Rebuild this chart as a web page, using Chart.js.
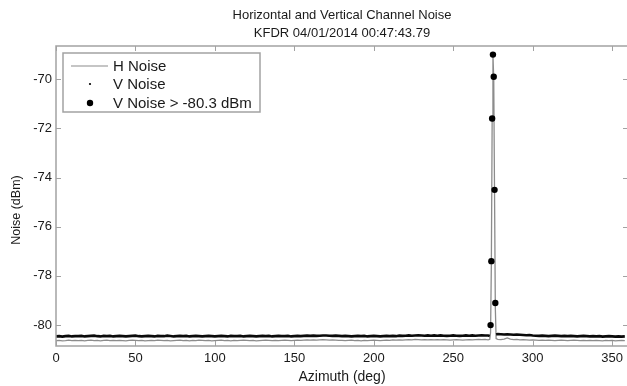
<!DOCTYPE html>
<html>
<head>
<meta charset="utf-8">
<script src="https://cdn.jsdelivr.net/npm/chart.js@4.4.0/dist/chart.umd.min.js"></script>
<style>
  html, body { margin: 0; padding: 0; background: #fff; overflow: hidden; }
  #wrap { width: 632px; height: 386px; }
</style>
</head>
<body>
<div id="wrap"><canvas id="noiseChart" width="632" height="386"></canvas></div>
<script>
// azimuth sampling of the baseline noise (deg)
const azStep = 2;

// H channel noise (dBm), one value per azStep, nulls where the spike samples take over
const hNoise = [
  -80.63, -80.62, -80.64, -80.63, -80.61, -80.63, -80.62, -80.63, -80.62, -80.64,
  -80.62, -80.61, -80.63, -80.62, -80.64, -80.62, -80.61, -80.63, -80.62, -80.63,
  -80.62, -80.63, -80.64, -80.62, -80.61, -80.62, -80.63, -80.62, -80.64, -80.63,
  -80.62, -80.63, -80.61, -80.62, -80.63, -80.62, -80.64, -80.63, -80.62, -80.61,
  -80.63, -80.62, -80.64, -80.62, -80.63, -80.61, -80.62, -80.63, -80.62, -80.64,
  -80.63, -80.62, -80.61, -80.63, -80.62, -80.64, -80.62, -80.63, -80.62, -80.61,
  -80.62, -80.63, -80.62, -80.64, -80.63, -80.62, -80.61, -80.62, -80.63, -80.62,
  -80.63, -80.62, -80.61, -80.62, -80.63, -80.62, -80.61, -80.62, -80.61, -80.60,
  -80.61, -80.60, -80.61, -80.60, -80.59, -80.60, -80.61, -80.60, -80.61, -80.62,
  -80.62, -80.63, -80.62, -80.61, -80.63, -80.62, -80.64, -80.62, -80.63, -80.62,
  -80.61, -80.62, -80.63, -80.62, -80.61, -80.62, -80.60, -80.61, -80.60, -80.61,
  -80.60, -80.59, -80.60, -80.58, -80.59, -80.60, -80.59, -80.60, -80.59, -80.60,
  -80.59, -80.60, -80.59, -80.60, -80.61, -80.60, -80.59, -80.60, -80.61, -80.60,
  -80.59, -80.60, -80.59, -80.58, -80.59, -80.58, -80.60, null,   null,   -80.58,
  -80.59, -80.57, -80.52, -80.57, -80.59, -80.58, -80.60, -80.59, -80.60, -80.61,
  -80.60, -80.61, -80.62, -80.61, -80.62, -80.61, -80.62, -80.63, -80.62, -80.61,
  -80.62, -80.63, -80.62, -80.61, -80.62, -80.63, -80.62, -80.63, -80.62, -80.63,
  -80.62, -80.63, -80.64, -80.62, -80.63, -80.62, -80.64, -80.63, -80.62, -80.63
];

// V channel noise (dBm), same sampling
const vNoise = [
  -80.46, -80.45, -80.47, -80.45, -80.44, -80.46, -80.45, -80.45, -80.44, -80.46,
  -80.45, -80.44, -80.43, -80.45, -80.46, -80.44, -80.45, -80.44, -80.46, -80.45,
  -80.44, -80.45, -80.46, -80.45, -80.44, -80.43, -80.45, -80.46, -80.45, -80.44,
  -80.45, -80.46, -80.44, -80.45, -80.45, -80.43, -80.44, -80.46, -80.45, -80.44,
  -80.45, -80.44, -80.46, -80.45, -80.44, -80.45, -80.46, -80.45, -80.44, -80.45,
  -80.46, -80.45, -80.44, -80.45, -80.46, -80.44, -80.45, -80.45, -80.44, -80.46,
  -80.45, -80.44, -80.45, -80.46, -80.45, -80.44, -80.45, -80.44, -80.46, -80.45,
  -80.44, -80.45, -80.45, -80.44, -80.46, -80.45, -80.44, -80.45, -80.44, -80.43,
  -80.44, -80.43, -80.44, -80.43, -80.42, -80.42, -80.43, -80.44, -80.43, -80.44,
  -80.45, -80.44, -80.45, -80.46, -80.45, -80.44, -80.45, -80.44, -80.46, -80.45,
  -80.44, -80.45, -80.46, -80.45, -80.44, -80.45, -80.44, -80.45, -80.43, -80.44,
  -80.43, -80.42, -80.43, -80.42, -80.41, -80.42, -80.43, -80.42, -80.43, -80.42,
  -80.43, -80.42, -80.43, -80.44, -80.43, -80.42, -80.43, -80.44, -80.43, -80.42,
  -80.43, -80.42, -80.43, -80.42, -80.41, -80.42, -80.42, null,   null,   -80.36,
  -80.37, -80.38, -80.37, -80.38, -80.39, -80.38, -80.39, -80.40, -80.41, -80.40,
  -80.42, -80.43, -80.44, -80.43, -80.44, -80.45, -80.44, -80.43, -80.44, -80.45,
  -80.44, -80.45, -80.44, -80.45, -80.46, -80.45, -80.44, -80.45, -80.46, -80.45,
  -80.46, -80.45, -80.47, -80.46, -80.45, -80.46, -80.47, -80.46, -80.47, -80.46
];

// finer samples across the interference spike
const spikeAz = [273, 273.5, 274, 274.5, 275, 275.5, 276, 276.5, 277];
const spikeH = [-80.58, -80.30, -77.50, -71.70, -69.00, -70.00, -74.60, -79.30, -80.55];
const spikeV = [-80.44, -80.00, -77.40, -71.60, -69.00, -69.90, -74.50, -79.10, -80.38];

const vThreshold = -80.3;
const xTicks = [0, 50, 100, 150, 200, 250, 300, 350];
const yTicks = [-80, -78, -76, -74, -72, -70];

const titleLines = ['Horizontal and Vertical Channel Noise', 'KFDR 04/01/2014 00:47:43.79'];
const legendLabels = ['H Noise', 'V Noise', 'V Noise > -80.3 dBm'];
const yLabel = 'Noise (dBm)';

function toPoints(base, spike) {
  const pts = base
    .map((v, i) => ({ x: i * azStep, y: v }))
    .filter(p => p.y !== null);
  spike.forEach((v, i) => pts.push({ x: spikeAz[i], y: v }));
  return pts.sort((a, b) => a.x - b.x);
}

const hPoints = toPoints(hNoise, spikeH);
const vPoints = toPoints(vNoise, spikeV);
const vLow = vPoints.map(p => ({ x: p.x, y: p.y > vThreshold ? null : p.y }));
const vHigh = vPoints.filter(p => p.y > vThreshold);

const FONT = "'Liberation Sans', Arial, sans-serif";
const TEXT = '#1a1a1a';
const GRAY = '#8c8c8c';
const FRAME = '#a2a2a2';

// box, inward ticks on all four sides, title, ylabel and legend, MATLAB style
const decorations = {
  id: 'decorations',
  afterDraw(chart) {
    const { ctx, chartArea: a, scales: { x, y } } = chart;
    ctx.save();

    ctx.strokeStyle = FRAME;
    ctx.lineWidth = 1.5;
    ctx.strokeRect(a.left, a.top, a.right - a.left, a.bottom - a.top);

    ctx.lineWidth = 1;
    ctx.beginPath();
    x.ticks.forEach(t => {
      const px = Math.round(x.getPixelForValue(t.value)) + 0.5;
      ctx.moveTo(px, a.bottom); ctx.lineTo(px, a.bottom - 5);
      ctx.moveTo(px, a.top); ctx.lineTo(px, a.top + 5);
    });
    y.ticks.forEach(t => {
      const py = Math.round(y.getPixelForValue(t.value)) + 0.5;
      ctx.moveTo(a.left, py); ctx.lineTo(a.left + 5, py);
      ctx.moveTo(a.right, py); ctx.lineTo(a.right - 5, py);
    });
    ctx.stroke();

    // title
    ctx.fillStyle = TEXT;
    ctx.font = '13px ' + FONT;
    ctx.textAlign = 'center';
    ctx.textBaseline = 'middle';
    const cx = (a.left + a.right) / 2;
    ctx.fillText(titleLines[0], cx, 15);
    ctx.fillText(titleLines[1], cx, 33);

    // y label, rotated
    ctx.save();
    ctx.translate(17, 210);
    ctx.rotate(-Math.PI / 2);
    ctx.font = '12.5px ' + FONT;
    ctx.fillText(yLabel, 0, 0);
    ctx.restore();

    // legend
    const lx = a.left + 7, ly = a.top + 7, lw = 197, lh = 59;
    ctx.fillStyle = '#fff';
    ctx.fillRect(lx, ly, lw, lh);
    ctx.strokeStyle = FRAME;
    ctx.lineWidth = 1.5;
    ctx.strokeRect(lx, ly, lw, lh);

    const rows = [ly + 13, ly + 31, ly + 50];
    const sx = lx + 27, tx = lx + 50;
    ctx.strokeStyle = GRAY;
    ctx.lineWidth = 1.2;
    ctx.beginPath();
    ctx.moveTo(lx + 8, rows[0]); ctx.lineTo(lx + 45, rows[0]);
    ctx.stroke();

    ctx.fillStyle = '#000';
    ctx.beginPath();
    ctx.arc(sx, rows[1], 1.1, 0, Math.PI * 2);
    ctx.fill();
    ctx.beginPath();
    ctx.arc(sx, rows[2], 3.2, 0, Math.PI * 2);
    ctx.fill();

    ctx.fillStyle = TEXT;
    ctx.font = '15px ' + FONT;
    ctx.textAlign = 'left';
    legendLabels.forEach((txt, i) => ctx.fillText(txt, tx, rows[i] + 0.5));

    ctx.restore();
  }
};

new Chart(document.getElementById('noiseChart'), {
  type: 'line',
  data: {
    datasets: [
      {
        label: legendLabels[2],
        data: vHigh,
        showLine: false,
        pointRadius: 3.2,
        pointBackgroundColor: '#000',
        pointBorderWidth: 0,
        order: 0
      },
      {
        label: legendLabels[1],
        data: vLow,
        borderColor: '#0a0a0a',
        borderWidth: 2.6,
        pointRadius: 0,
        spanGaps: false,
        order: 1
      },
      {
        label: legendLabels[0],
        data: hPoints,
        borderColor: GRAY,
        borderWidth: 1.3,
        pointRadius: 0,
        order: 2
      }
    ]
  },
  options: {
    responsive: false,
    animation: false,
    events: [],
    layout: { padding: { top: 46, right: 2, left: 0, bottom: 0 } },
    plugins: {
      legend: { display: false },
      title: { display: false },
      tooltip: { enabled: false }
    },
    scales: {
      x: {
        type: 'linear',
        min: 0,
        max: 360,
        grid: { display: false, drawTicks: false },
        border: { display: false },
        afterFit: s => { s.height = 40; },
        afterBuildTicks: s => { s.ticks = xTicks.map(v => ({ value: v })); },
        ticks: {
          padding: 5,
          color: TEXT,
          font: { family: FONT, size: 13 },
          maxRotation: 0
        },
        title: {
          display: true,
          text: 'Azimuth (deg)',
          color: TEXT,
          font: { family: FONT, size: 14 },
          padding: { top: 0, bottom: 0 }
        }
      },
      y: {
        min: -80.85,
        max: -68.65,
        grid: { display: false, drawTicks: false },
        border: { display: false },
        afterFit: s => { s.width = 56; },
        afterBuildTicks: s => { s.ticks = yTicks.map(v => ({ value: v })); },
        ticks: {
          padding: 4,
          color: TEXT,
          font: { family: FONT, size: 13 }
        }
      }
    }
  },
  plugins: [decorations]
});
</script>
</body>
</html>
